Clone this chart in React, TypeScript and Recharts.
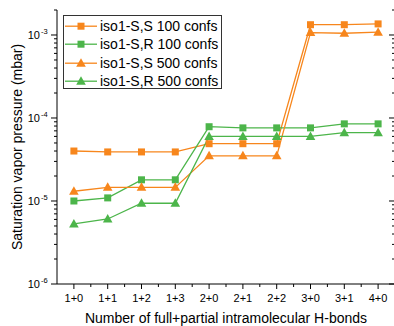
import React from "react"
import { LineChart, Line, XAxis, YAxis, Label } from "recharts"

const categories = ["1+0", "1+1", "1+2", "1+3", "2+0", "2+1", "2+2", "3+0", "3+1", "4+0"]
const ssConfs100 = [4.0e-5, 3.9e-5, 3.9e-5, 3.9e-5, 4.9e-5, 4.9e-5, 4.9e-5, 1.33e-3, 1.33e-3, 1.36e-3]
const srConfs100 = [1.0e-5, 1.09e-5, 1.8e-5, 1.8e-5, 7.85e-5, 7.6e-5, 7.6e-5, 7.6e-5, 8.5e-5, 8.5e-5]
const ssConfs500 = [1.31e-5, 1.46e-5, 1.46e-5, 1.46e-5, 3.5e-5, 3.5e-5, 3.5e-5, 1.07e-3, 1.05e-3, 1.08e-3]
const srConfs500 = [5.3e-6, 6.07e-6, 9.4e-6, 9.4e-6, 6.0e-5, 6.0e-5, 6.0e-5, 6.0e-5, 6.65e-5, 6.65e-5]
const majorExponents = [-6, -5, -4, -3]
const yDomain = [1e-6, 2e-3]

const ORANGE = "#F7861C"
const GREEN = "#4CB54A"
const FONT = "'Liberation Sans', Arial, sans-serif"

const CHART_W = 400
const CHART_H = 326
const LEFT_W = 57
const RIGHT_W = 5
const BAND = (CHART_W - LEFT_W - RIGHT_W) / categories.length

const data = categories.map((hb, i) => ({
  hb,
  ss100: ssConfs100[i],
  sr100: srConfs100[i],
  ss500: ssConfs500[i],
  sr500: srConfs500[i],
}))

const series = [
  { key: "ss100", name: "iso1-S,S 100 confs", color: ORANGE, shape: "square" },
  { key: "sr100", name: "iso1-S,R 100 confs", color: GREEN, shape: "square" },
  { key: "ss500", name: "iso1-S,S 500 confs", color: ORANGE, shape: "triangle" },
  { key: "sr500", name: "iso1-S,R 500 confs", color: GREEN, shape: "triangle" },
]

// major decades plus 2..9 minor ticks inside the domain
const yTicks: number[] = []
majorExponents.forEach((e) => {
  for (let m = 1; m <= 9; m++) {
    const v = m * Math.pow(10, e)
    if (v <= yDomain[1] * 1.0001) yTicks.push(v)
  }
})

const isMajor = (v: number) => Math.abs(Math.log10(v) - Math.round(Math.log10(v))) < 1e-6

function Marker({ cx, cy, color, shape }: any) {
  if (cx == null || cy == null) return null
  if (shape === "square") {
    return <rect x={cx - 3.5} y={cy - 3.5} width={7} height={7} fill={color} />
  }
  return <path d={`M${cx},${cy - 5}L${cx + 4.8},${cy + 3.5}L${cx - 4.8},${cy + 3.5}Z`} fill={color} />
}

function LeftTick({ x, y, payload }: any) {
  const v = payload.value
  if (!isMajor(v)) return <line x1={x} x2={x - 3} y1={y} y2={y} stroke="#000" />
  const exp = Math.round(Math.log10(v))
  return (
    <g>
      <line x1={x} x2={x - 6} y1={y} y2={y} stroke="#000" />
      <text x={x - 17} y={y + 4} textAnchor="end" fontSize={11} fontFamily={FONT} fill="#000">
        10
      </text>
      <text x={x - 16} y={y - 1} textAnchor="start" fontSize={7.5} fontFamily={FONT} fill="#000">
        {exp}
      </text>
    </g>
  )
}

function RightTick({ x, y, payload }: any) {
  const len = isMajor(payload.value) ? 6 : 3
  return <line x1={x} x2={x - len} y1={y} y2={y} stroke="#000" />
}

function BottomTick({ x, y, payload }: any) {
  return (
    <g>
      <line x1={x} x2={x} y1={y} y2={y + 5} stroke="#000" />
      <line x1={x + BAND / 2} x2={x + BAND / 2} y1={y} y2={y + 3} stroke="#000" />
      <text x={x} y={y + 18} textAnchor="middle" fontSize={11} fontFamily={FONT} fill="#000">
        {payload.value}
      </text>
    </g>
  )
}

function LegendBox() {
  return (
    <div
      style={{
        position: "absolute",
        left: 63,
        top: 15,
        width: 159,
        height: 74,
        boxSizing: "border-box",
        border: "1px solid #333",
        background: "#fff",
        fontFamily: FONT,
        fontSize: 14,
        color: "#000",
      }}
    >
      {series.map((s, i) => (
        <div key={s.key} style={{ position: "absolute", left: 0, top: 1 + i * 18.4, height: 18.4, width: 157 }}>
          <svg width={34} height={18.4} style={{ position: "absolute", left: 1, top: 0 }}>
            <line x1={0} x2={32} y1={9.2} y2={9.2} stroke={s.color} strokeWidth={1.3} />
            <Marker cx={16} cy={9.2} color={s.color} shape={s.shape} />
          </svg>
          <span style={{ position: "absolute", left: 36, top: 0, lineHeight: "18.4px", whiteSpace: "nowrap" }}>
            {s.name}
          </span>
        </div>
      ))}
    </div>
  )
}

export default function App() {
  return (
    <div
      style={{
        position: "fixed",
        left: 0,
        top: 0,
        width: 394,
        height: 326,
        overflow: "hidden",
        background: "#fff",
      }}
    >
      <LineChart width={CHART_W} height={CHART_H} data={data} margin={{ top: 10, right: 0, bottom: 0, left: 0 }}>
        <XAxis
          dataKey="hb"
          height={42}
          padding={{ left: BAND / 2, right: BAND / 2 }}
          tickSize={0}
          tickMargin={0}
          tickLine={false}
          interval={0}
          tick={<BottomTick />}
          axisLine={{ stroke: "#000" }}
        >
          <Label
            value="Number of full+partial intramolecular H-bonds"
            position="insideBottom"
            offset={3}
            style={{ fontSize: 14, fontFamily: FONT, fill: "#000" }}
          />
        </XAxis>
        <XAxis
          xAxisId="top"
          dataKey="hb"
          orientation="top"
          height={0}
          padding={{ left: BAND / 2, right: BAND / 2 }}
          tick={false}
          tickLine={false}
          axisLine={{ stroke: "#000" }}
        />
        <YAxis
          scale="log"
          domain={yDomain}
          ticks={yTicks}
          interval={0}
          width={LEFT_W}
          tickSize={0}
          tickMargin={0}
          tickLine={false}
          tick={<LeftTick />}
          axisLine={{ stroke: "#000" }}
          allowDataOverflow
        >
          <Label
            content={({ viewBox }: any) => {
              const cx = 17
              const cy = viewBox.y + viewBox.height / 2
              return (
                <text
                  x={cx}
                  y={cy}
                  transform={`rotate(-90 ${cx} ${cy})`}
                  textAnchor="middle"
                  dominantBaseline="central"
                  fontSize={14}
                  fontFamily={FONT}
                  fill="#000"
                >
                  Saturation vapor pressure (mbar)
                </text>
              )
            }}
          />
        </YAxis>
        <YAxis
          yAxisId="right"
          orientation="right"
          scale="log"
          domain={yDomain}
          ticks={yTicks}
          interval={0}
          width={RIGHT_W}
          tickSize={0}
          tickMargin={0}
          tickLine={false}
          tick={<RightTick />}
          axisLine={{ stroke: "#000" }}
          allowDataOverflow
        />
        {series.map((s) => (
          <Line
            key={s.key}
            dataKey={s.key}
            name={s.name}
            stroke={s.color}
            strokeWidth={1.3}
            isAnimationActive={false}
            dot={(p: any) => <Marker key={`${s.key}-${p.index}`} cx={p.cx} cy={p.cy} color={s.color} shape={s.shape} />}
            activeDot={false}
          />
        ))}
      </LineChart>
      <LegendBox />
    </div>
  )
}
